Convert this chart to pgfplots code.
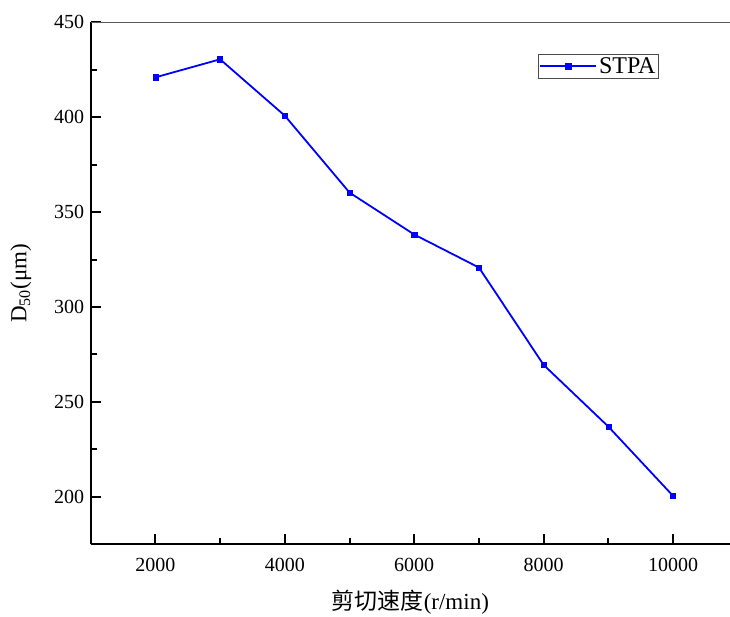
\documentclass[border=0pt]{standalone}
\usepackage{pgfplots}
\pgfplotsset{compat=1.18}
\usepackage{fontspec}
\setmainfont{Liberation Serif}
\newfontfamily\cjk{Noto Sans CJK SC}
\begin{document}
\begin{tikzpicture}
\begin{axis}[
  name=ax,
  scale only axis,
  width=639.3pt, height=522pt,
  xmin=1000, xmax=10880,
  ymin=175, ymax=450,
  xtick={2000,4000,6000,8000,10000},
  ytick={200,250,300,350,400,450},
  scaled x ticks=false, scaled y ticks=false,
  minor x tick num=1, minor y tick num=1,
  axis x line*=bottom, axis y line*=left,
  x axis line style={line width=2pt, black},
  y axis line style={line width=2pt, black},
  tick align=inside,
  major tick length=10pt, minor tick length=6pt,
  major tick style={black, line width=2pt},
  minor tick style={black, line width=2pt},
  /pgf/number format/assume math mode=true,
  /pgf/number format/1000 sep={},
  ticklabel style={font=\fontsize{20}{20}\selectfont},
  yticklabel style={xshift=-3pt},
  xticklabel style={yshift=-10pt},
  xlabel={{\cjk 剪切速度}(r/min)},
  ylabel={D\textsubscript{50}(μm)},
  label style={font=\fontsize{23}{23}\selectfont},
  xlabel style={yshift=-12pt},
  ylabel style={yshift=16pt},
  clip=false,
  legend style={at={(0.889,0.939)}, anchor=north east, draw=black!70, line width=1pt,
    font=\fontsize{24}{24}\selectfont, inner sep=1pt, row sep=0pt},
  legend cell align=left,
  legend image code/.code={\draw[#1, line width=1.8pt] (0pt,0pt) -- (56pt,0pt); \draw[#1, only marks] plot coordinates {(28pt,0pt)};},
]
\addplot[blue, line width=1.8pt, mark=square*, mark size=2.6pt, mark options={solid, fill=blue, draw=blue, line width=0.5pt}] coordinates {
(2000,421) (3000,430.5) (4000,400.8) (5000,360.3) (6000,338.2) (7000,320.8) (8000,269.5) (9000,237) (10000,200.5)
};
\addlegendentry{STPA}
\draw[black!65, line width=0.8pt] (rel axis cs:0,1) -- (rel axis cs:1,1);
\coordinate (bl) at (rel axis cs:0,0);
\end{axis}
\pgfresetboundingbox
\path (bl) ++(-90.7pt,-71.7pt) rectangle ++(730pt,616pt);
\end{tikzpicture}
\end{document}
